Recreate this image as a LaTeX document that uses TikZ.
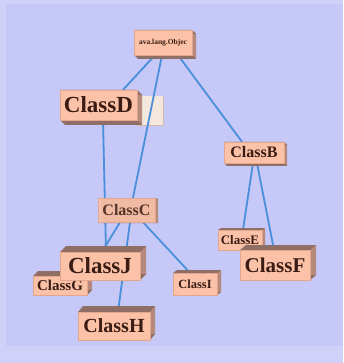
\documentclass[tikz,border=0pt]{standalone}
\usepackage{fontspec}
\setmainfont{Liberation Serif}
\usepackage{tikz}
\usetikzlibrary{calc}
\pgfdeclarelayer{background}
\pgfsetlayers{background,main}
\definecolor{bgcol}{HTML}{C6C8F7}
\definecolor{bgedge}{HTML}{CFD1F9}
\definecolor{boxfront}{HTML}{FBC2A7}
\definecolor{boxline}{HTML}{E3A58C}
\definecolor{boxside}{HTML}{B58A7C}
\definecolor{boxtop}{HTML}{8F6E66}
\definecolor{linkcol}{HTML}{4A8FDA}
\definecolor{ghostcol}{HTML}{F4E7DE}
\definecolor{textcol}{HTML}{3A1C14}
\tikzset{
  clsbox/.style={draw=boxline,fill=boxfront,inner sep=0pt,text=textcol},
  link/.style={draw=linkcol,line width=1.8pt}
}
% #1 name, #2 x, #3 y, #4 width, #5 height, #6 dx, #7 dy, #8 size, #9 text
\newcommand{\classbox}[9]{ \fill[boxside] (#2+#6,#3+#7) rectangle (#2+#4+#6,#3+#5+#7); \fill[boxside] (#2+#4,#3) -- (#2+#4,#3+#5) -- (#2+#4+#6,#3+#5+#7) -- (#2+#4+#6,#3+#7) -- cycle; \fill[boxtop] (#2,#3) -- (#2+#4,#3) -- (#2+#4+#6,#3+#7) -- (#2+#6,#3+#7) -- cycle; \fill[boxtop] (#2,#3+#5) -- (#2+#4,#3+#5) -- (#2+#4+#6,#3+#5+#7) -- (#2+#6,#3+#5+#7) -- cycle; \node[clsbox,minimum width=#4pt,minimum height=#5pt,font=\fontsize{#8}{#8}\selectfont\bfseries] (#1) at (#2+#4/2,#3+#5/2){#9};}

\begin{document}
\begin{tikzpicture}[x=1pt,y=-1pt]
        \useasboundingbox (0,0) rectangle (343,363);

        % top
        \classbox{obj}{134}{30}{58}{25}{4}{4}{7.5}{ava.lang.Objec}
        % row1
        \classbox{clsD}{60}{90}{77}{30}{5}{5}{23}{ClassD}
        \classbox{clsB}{224}{142}{60}{21}{3}{3}{16}{ClassB}
        % row2
        \begin{scope}[fill opacity=0.85]
        \classbox{clsC}{98}{198}{57}{24}{3}{1}{16}{ClassC}
        \end{scope}
        \classbox{clsE}{218}{230}{44}{20}{3}{-2}{13}{ClassE}
        % row3
        \classbox{clsG}{33}{276}{54}{19}{5}{-5}{15}{ClassG}
        \classbox{clsJ}{60}{252}{80}{28}{6}{-6}{23}{ClassJ}
        \classbox{clsI}{173}{273}{44}{22}{4}{-3}{12.5}{ClassI}
        \classbox{clsF}{240}{250}{70}{30}{6}{-5}{21}{ClassF}
        % row4
        \classbox{clsH}{78}{312}{72}{28}{5}{-6}{20}{ClassH}

        % background and links
        \begin{pgfonlayer}{background}
        \fill[bgedge] (0,0) rectangle (343,363);
        \fill[bgcol] (6,4) rectangle (343,346);
        \fill[ghostcol] (137,96) rectangle (163,126);
        \draw[boxside!60,line width=1pt] (163,97) -- (163,126) -- (137,126);
        \draw[link] ([xshift=-8pt]obj.south) -- ([xshift=24.5pt]clsD.north);
        \draw[link] ([xshift=-1pt]obj.south) -- ([xshift=6.5pt]clsC.north);
        \draw[link] ([xshift=15pt]obj.south) -- ([xshift=-12pt]clsB.north);
        \draw[link] ([xshift=4.5pt]clsD.south) -- ([xshift=6pt]clsJ.north);
        \draw[link] ([xshift=-6.5pt]clsC.south) -- ([xshift=2pt]clsJ.north);
        \draw[link] ([xshift=3.5pt]clsC.south) -- ([xshift=4pt]clsH.north);
        \draw[link] ([xshift=16.5pt]clsC.south) -- ([xshift=-5pt]clsI.north);
        \draw[link] ([xshift=-1pt]clsB.south) -- ([xshift=3pt]clsE.north);
        \draw[link] ([xshift=3pt]clsB.south) -- ([xshift=-1pt]clsF.north);
        \end{pgfonlayer}
    \end{tikzpicture}
\end{document}
